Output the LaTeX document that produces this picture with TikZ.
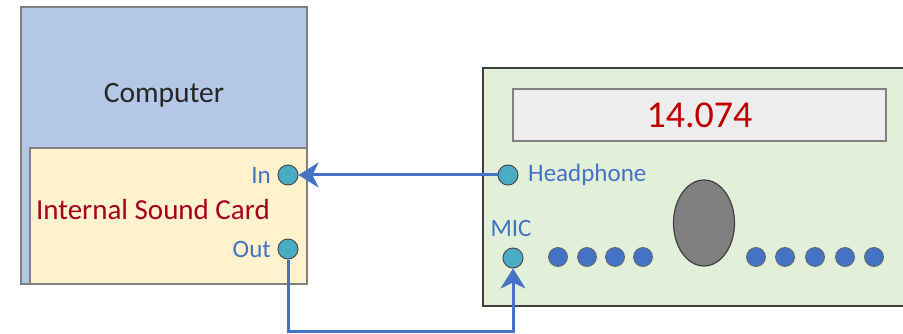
\documentclass[tikz,border=0pt]{standalone}
\usepackage{fontspec}
\setmainfont{Carlito}
\usetikzlibrary{arrows.meta,positioning,shapes.geometric}

\definecolor{pcblue}{HTML}{B4C7E7}
\definecolor{cardtan}{HTML}{FFF2CC}
\definecolor{rigpanel}{HTML}{E2F0D9}
\definecolor{lcdgray}{HTML}{EDEDED}
\definecolor{jackteal}{HTML}{4BACC6}
\definecolor{portblue}{HTML}{4472C4}
\definecolor{freqred}{HTML}{C00000}
\definecolor{cardred}{HTML}{A50021}

\begin{document}
\begin{tikzpicture}[
    x=1pt,y=-1pt,
    box/.style={draw=gray,line width=1.2pt,inner sep=0pt,outer sep=0pt},
    jack/.style={circle,draw=black!70,line width=1pt,fill=jackteal,minimum size=20pt,inner sep=0pt},
    key/.style={circle,draw=black!60,line width=0.8pt,fill=portblue,minimum size=19pt,inner sep=0pt},
    port/.style={text=portblue,font=\fontsize{25}{28}\selectfont,inner sep=0pt},
    link/.style={draw=portblue,line width=3pt,-{Stealth[length=20pt,width=25pt,inset=6pt]}}]
  \useasboundingbox (0,0) rectangle (903,334);
  % computer side
  \node[box,fill=pcblue,minimum width=286pt,minimum height=277pt] (computer) at (164,145.5) {};
  \node[box,fill=cardtan,minimum width=277pt,minimum height=136pt] (card) at (168.5,216) {};
  \node[font=\fontsize{29.5}{32}\selectfont,text=black!85] (pclabel) at (164,95) {Computer};
  \node[font=\fontsize{29}{32}\selectfont,text=cardred] (cardlabel) at (153,210) {Internal Sound Card};
  \node[jack] (in) at (288,175) {};
  \node[jack] (out) at (288,249) {};
  \node[port,anchor=east] (inlabel) at (271,175) {In};
  \node[port,anchor=east] (outlabel) at (271,249) {Out};
  % transceiver
  \node[draw=black!75,line width=2.5pt,fill=rigpanel,minimum width=430pt,minimum height=238pt,inner sep=0pt] (rig) at (698,187) {};
  \node[box,fill=lcdgray,minimum width=373pt,minimum height=52pt,font=\fontsize{38}{40}\selectfont,text=freqred] (display) at (699.5,115) {14.074};
  \node[ellipse,draw=black!75,line width=1.2pt,fill=gray,minimum width=61pt,minimum height=86pt] (knob) at (704,223) {};
  \node[jack] (phones) at (508,175) {};
  \node[port,anchor=west] (phoneslabel) at (528,175) {Headphone};
  \node[jack] (mic) at (513,258) {};
  \node[port] (miclabel) at (511,228) {MIC};
  \foreach \i/\kx in {1/558,2/587,3/615,4/643,5/756,6/785,7/815,8/845,9/874}
    \node[key] (key\i) at (\kx,257) {};
  % cabling
  \coordinate (route) at (400,331);
  \draw[link] (phones) -- (in);
  \draw[link] (out) |- (route) -| (mic);
\end{tikzpicture}
\end{document}
